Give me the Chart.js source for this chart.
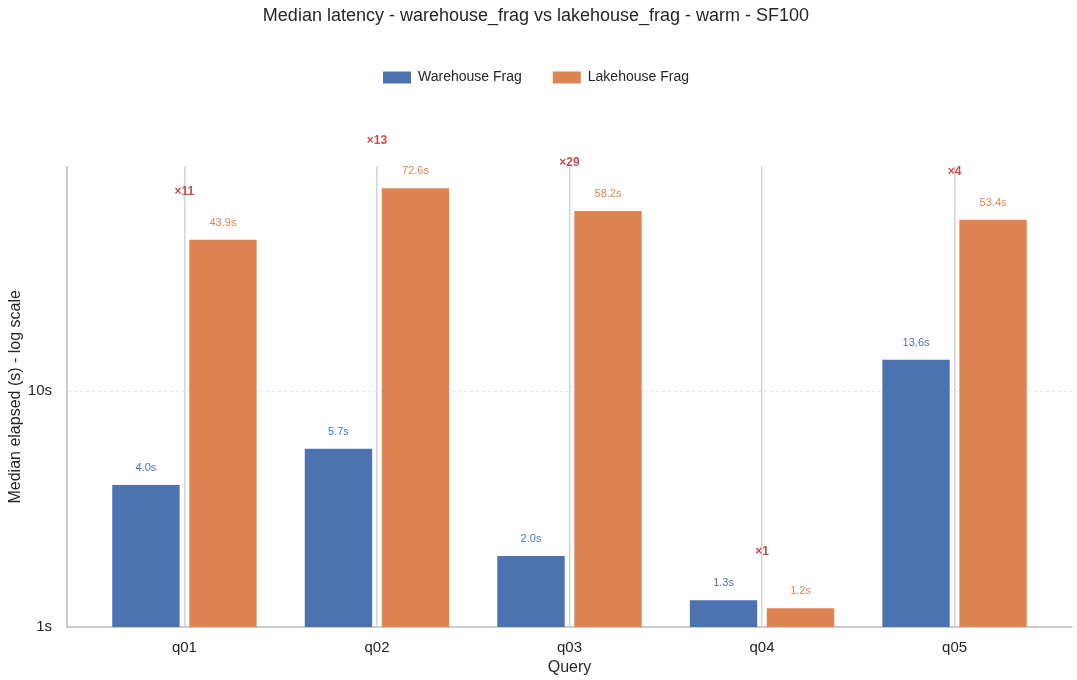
<!DOCTYPE html>
<html>
<head>
<meta charset="utf-8">
<script src="https://cdn.jsdelivr.net/npm/chart.js@4.4.1/dist/chart.umd.min.js"></script>
<style>
  html, body { margin: 0; padding: 0; background: #fff; }
</style>
</head>
<body>
<canvas id="chart" width="1077" height="680"></canvas>
<script>
const queries = ["q01", "q02", "q03", "q04", "q05"];
const warehouseFrag = [4.0, 5.7, 2.0, 1.3, 13.6];
const lakehouseFrag = [43.9, 72.6, 58.2, 1.2, 53.4];
const yTicks = [1, 10];

const FONT = "'Liberation Sans', Arial, sans-serif";
const BLUE = "#4c72b0";
const ORANGE = "#dd8452";
const RED = "#c44e52";

// push the plot area down below the legend
const legendGap = {
  id: "legendGap",
  beforeInit(chart) {
    const fit = chart.legend.fit;
    chart.legend.fit = function () {
      fit.call(this);
      this.height += 72;
    };
  },
};

// value labels over each bar + ratio label over each query
const barLabels = {
  id: "barLabels",
  afterDatasetsDraw(chart) {
    const { ctx } = chart;
    const xs = chart.scales.x;
    const ys = chart.scales.y;
    ctx.save();
    ctx.textAlign = "center";
    ctx.textBaseline = "middle";
    ctx.font = "11px " + FONT;
    chart.data.datasets.forEach((ds, di) => {
      ctx.fillStyle = ds.backgroundColor;
      chart.getDatasetMeta(di).data.forEach((bar, i) => {
        ctx.fillText(ds.data[i].y.toFixed(1) + "s", bar.x, bar.y - 17);
      });
    });
    ctx.font = "bold 12px " + FONT;
    ctx.fillStyle = RED;
    queries.forEach((q, i) => {
      const top = Math.max(warehouseFrag[i], lakehouseFrag[i]);
      const ratio = Math.round(lakehouseFrag[i] / warehouseFrag[i]);
      ctx.fillText("×" + ratio, xs.getPixelForValue(i), ys.getPixelForValue(top * 1.6));
    });
    ctx.restore();
  },
};

new Chart(document.getElementById("chart"), {
  type: "bar",
  data: {
    datasets: [
      {
        label: "Warehouse Frag",
        backgroundColor: BLUE,
        data: warehouseFrag.map((v, i) => ({ x: i, y: v })),
      },
      {
        label: "Lakehouse Frag",
        backgroundColor: ORANGE,
        data: lakehouseFrag.map((v, i) => ({ x: i, y: v })),
      },
    ],
  },
  options: {
    responsive: false,
    animation: false,
    categoryPercentage: 0.8,
    barPercentage: 0.875,
    layout: { padding: { left: 0, right: 5, top: 0, bottom: 0 } },
    plugins: {
      tooltip: { enabled: false },
      title: {
        display: true,
        text: "Median latency - warehouse_frag vs lakehouse_frag - warm - SF100",
        color: "#262626",
        font: { family: FONT, size: 18, weight: "normal" },
        padding: { top: 5, bottom: 13 },
      },
      legend: {
        labels: {
          color: "#262626",
          font: { family: FONT, size: 14 },
          boxWidth: 28,
          boxHeight: 12,
          padding: 31,
        },
      },
    },
    scales: {
      x: {
        type: "linear",
        min: -0.61,
        max: 4.61,
        offset: false,
        afterBuildTicks(scale) {
          scale.ticks = queries.map((q, i) => ({ value: i }));
        },
        afterFit(scale) {
          scale.height = 53;
        },
        ticks: {
          color: "#262626",
          font: { family: FONT, size: 15 },
          padding: 12,
          callback: (v) => queries[v],
        },
        grid: { color: "#d4d4d4", lineWidth: 1.5, drawTicks: false, offset: false },
        border: { color: "#cccccc", width: 2 },
        title: {
          display: true,
          text: "Query",
          color: "#262626",
          font: { family: FONT, size: 16 },
          padding: { top: 0, bottom: 3 },
        },
      },
      y: {
        type: "logarithmic",
        min: 1,
        max: 89.8,
        afterBuildTicks(scale) {
          scale.ticks = yTicks.map((v) => ({ value: v }));
        },
        afterFit(scale) {
          scale.width = 67;
        },
        ticks: {
          color: "#262626",
          font: { family: FONT, size: 15 },
          padding: 15,
          callback: (v) => v + "s",
        },
        grid: {
          color: (c) => (c.tick && c.tick.value === 1 ? "rgba(0,0,0,0)" : "#e3e3e3"),
          lineWidth: 0.8,
          drawTicks: false,
        },
        border: { color: "#cccccc", width: 2, dash: [3, 3], dashOffset: 0 },
        title: {
          display: true,
          text: "Median elapsed (s) - log scale",
          color: "#262626",
          font: { family: FONT, size: 16 },
          padding: { top: 6, bottom: 0 },
        },
      },
    },
  },
  plugins: [legendGap, barLabels],
});
</script>
</body>
</html>
